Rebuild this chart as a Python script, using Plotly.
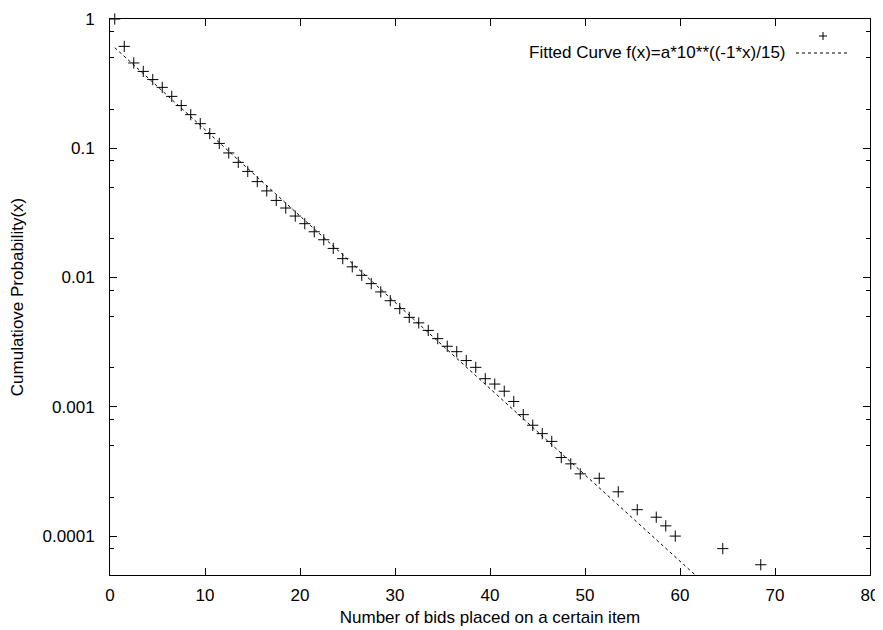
import plotly.graph_objects as go

# Data
bids = [0.5, 1.5, 2.5, 3.5, 4.5, 5.5, 6.5, 7.5, 8.5, 9.5,
        10.5, 11.5, 12.5, 13.5, 14.5, 15.5, 16.5, 17.5, 18.5, 19.5,
        20.5, 21.5, 22.5, 23.5, 24.5, 25.5, 26.5, 27.5, 28.5, 29.5,
        30.5, 31.5, 32.5, 33.5, 34.5, 35.5, 36.5, 37.5, 38.5, 39.5,
        40.5, 41.5, 42.5, 43.5, 44.5, 45.5, 46.5, 47.5, 48.5, 49.5,
        51.5, 53.5, 55.5, 57.5, 58.5, 59.5, 64.5, 68.5]
prob = [1.0, 0.614, 0.457, 0.393, 0.34, 0.296, 0.252, 0.214, 0.182, 0.155,
        0.130, 0.109, 0.092, 0.0778, 0.0662, 0.0552, 0.0468, 0.0395, 0.0345, 0.0299,
        0.0261, 0.0226, 0.0196, 0.0168, 0.0140, 0.0121, 0.0104, 0.00897, 0.00774, 0.00662,
        0.00575, 0.00492, 0.00446, 0.00390, 0.00337, 0.00294, 0.00267, 0.00228, 0.00202, 0.00165,
        0.00150, 0.00132, 0.00110, 0.00087, 0.00072, 0.00062, 0.00054, 0.000405, 0.000362, 0.000303,
        0.00028, 0.00022, 0.00016, 0.00014, 0.00012, 0.00010, 0.00008, 0.00006]

fit_x = [0.5, 61.6]
fit_y = [0.6, 5.0e-5]
fit_label = "Fitted Curve f(x)=a*10**((-1*x)/15)"

x_ticks = [0, 10, 20, 30, 40, 50, 60, 70, 80]
y_ticks = [1, 0.1, 0.01, 0.001, 0.0001]
y_tick_text = ["1", "0.1", "0.01", "0.001", "0.0001"]

minor_vals = []
for d in [1e-5, 1e-4, 1e-3, 1e-2, 1e-1]:
    for m in (2, 5, 8):
        v = d * m
        if 5e-5 <= v <= 1:
            minor_vals.append(v)

FONT = "Liberation Sans, Arial, sans-serif"
FS = 17

fig = go.Figure()
fig.add_trace(go.Scatter(
    x=bids, y=prob, mode="markers",
    marker=dict(symbol="cross-thin-open", size=8, color="black",
                line=dict(color="black", width=1)),
    cliponaxis=False, showlegend=False))
fig.add_trace(go.Scatter(
    x=fit_x, y=fit_y, mode="lines",
    line=dict(color="black", width=1, dash="3px,3px"),
    showlegend=False))

# page body has an 8px margin; target plot area in window pixels: x 110..870, y 19..575
OFF = 8
W, H = 883 - OFF, 630 - OFF
L, T = 110 - OFF, 19 - OFF
R = (883 - OFF) - (870 - OFF)
B = (630 - OFF) - (575 - OFF)
pw, ph = W - L - R, H - T - B

def px_x(p):
    return (p - OFF - L) / pw

def px_y(p):
    return (H - B - (p - OFF)) / ph

fig.add_annotation(x=px_x(788), y=px_y(53), xref="paper", yref="paper",
                   text=fit_label, showarrow=False, xanchor="right", yanchor="middle",
                   font=dict(family=FONT, size=FS, color="black"))
fig.add_shape(type="line", xref="paper", yref="paper",
              x0=px_x(796), x1=px_x(848), y0=px_y(53), y1=px_y(53),
              line=dict(color="black", width=1, dash="3px,3px"))
cx, cy = 823, 36
fig.add_shape(type="line", xref="paper", yref="paper",
              x0=px_x(cx - 4), x1=px_x(cx + 4), y0=px_y(cy), y1=px_y(cy),
              line=dict(color="black", width=1))
fig.add_shape(type="line", xref="paper", yref="paper",
              x0=px_x(cx), x1=px_x(cx), y0=px_y(cy - 4), y1=px_y(cy + 4),
              line=dict(color="black", width=1))

fig.update_layout(
    width=W, height=H,
    margin=dict(l=L, r=R, t=T, b=B, autoexpand=False),
    paper_bgcolor="white", plot_bgcolor="white",
    font=dict(family=FONT, size=FS, color="black"),
    showlegend=False,
)
fig.update_xaxes(
    range=[0, 80], tickvals=x_ticks, ticks="inside", ticklen=7, tickwidth=1,
    tickcolor="black", showline=True, linecolor="black", linewidth=1,
    mirror="allticks", showgrid=False, zeroline=False,
    ticklabelstandoff=5,
    title=dict(text="Number of bids placed on a certain item", standoff=6,
               font=dict(family=FONT, size=FS)),
)
fig.update_yaxes(
    type="log", range=[-4.30103, 0], tickvals=y_ticks, ticktext=y_tick_text,
    ticks="inside", ticklen=7, tickwidth=1, tickcolor="black",
    showline=True, linecolor="black", linewidth=1, mirror="allticks",
    showgrid=False, zeroline=False, ticklabelstandoff=11,
    minor=dict(tickmode="array", tickvals=minor_vals, ticks="inside",
               ticklen=4, tickwidth=1, tickcolor="black", showgrid=False),
    title=dict(text="Cumulatiove Probability(x)", standoff=16,
               font=dict(family=FONT, size=FS)),
)

fig.write_html("out.html")
